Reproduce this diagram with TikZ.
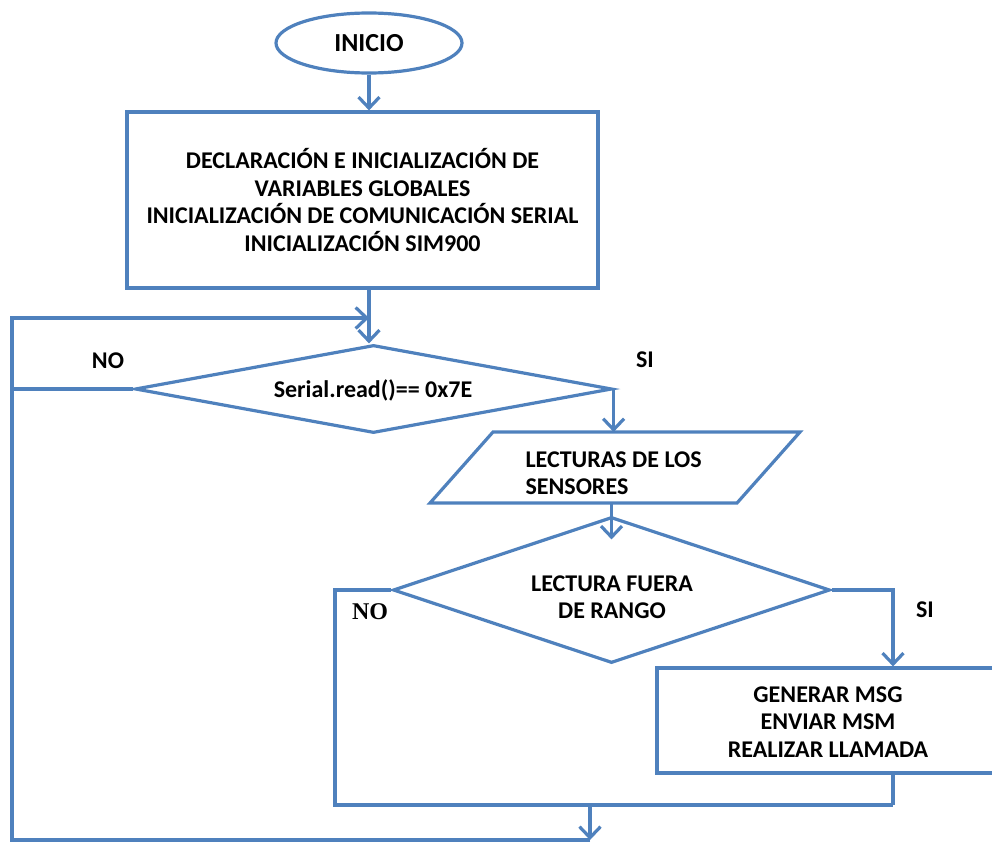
\documentclass[tikz,border=0pt]{standalone}
\usepackage{fontspec}
\setmainfont{Carlito}
\newfontfamily\serifb{Liberation Serif}
\usetikzlibrary{shapes.geometric,arrows.meta,calc}
\definecolor{fblue}{HTML}{4F81BD}
\begin{document}
\begin{tikzpicture}[x=1pt,y=-1pt,
  line/.style={draw=fblue,line width=3.2pt},
  arr/.style={draw=fblue,line width=3.2pt,-{Straight Barb[length=11pt,width=21pt]}},
  txt/.style={font=\bfseries\fontsize{24}{27.5}\selectfont,text=black},
  lbl/.style={font=\bfseries\fontsize{24}{26}\selectfont,text=black}]
\useasboundingbox (0,0) rectangle (992,843);
% nodes
\node[ellipse,line,minimum width=186pt,minimum height=60pt,inner sep=0pt,font=\bfseries\fontsize{26}{28}\selectfont] (ini) at (369,43) {INICIO};
\node[rectangle,line,minimum width=471pt,minimum height=176pt,txt,align=center] (b1) at (362.5,200)
  {DECLARACIÓN E INICIALIZACIÓN DE\\VARIABLES GLOBALES\\INICIALIZACIÓN DE COMUNICACIÓN SERIAL\\INICIALIZACIÓN SIM900};
\node[diamond,line,minimum width=477pt,minimum height=88pt,inner sep=0pt] (d1) at (373.5,389) {};
\node[txt] (d1t) at (373,390) {Serial.read()== 0x7E};
% parallelogram (frame node + outline)
\node[minimum width=370pt,minimum height=71pt,inner sep=0pt,outer sep=0pt] (par) at (615,467.5) {};
\draw[line,line join=miter] ($(par.north west)+(63,0)$) -- (par.north east)
  -- ($(par.south east)+(-63,0)$) -- (par.south west) -- cycle;
\node[txt,align=left,anchor=west] (part) at (522,473) {LECTURAS DE LOS\\SENSORES};
\node[diamond,line,minimum width=437pt,minimum height=146pt,inner sep=0pt] (d2) at (611.5,590) {};
\node[txt,align=center] (d2t) at (612,597) {LECTURA FUERA\\DE RANGO};
\node[rectangle,line,minimum width=340pt,minimum height=105pt] (b2) at (827,720.5) {};
\node[txt,align=center] (b2t) at (828,722) {GENERAR MSG\\ENVIAR MSM\\REALIZAR LLAMADA};
% labels
\node[lbl] (no1) at (108,361) {NO};
\node[lbl] (si1) at (645,360) {SI};
\node[font=\serifb\bfseries\fontsize{24}{26}\selectfont] (no2) at (370,612) {NO};
\node[lbl] (si2) at (925,610) {SI};
% coordinates
\coordinate (L1) at (12,318);
\coordinate (Bot) at (590,840);
\coordinate (J) at (590,805);
\coordinate (L2) at (335,805);
\coordinate (s2) at (893,590);
% connectors
\draw[arr] (ini.south) -- (ini.south |- b1.north);
\draw[arr] (b1.south -| ini.south) -- (ini.south |- d1.north);
\draw[arr] (Bot) -- (Bot -| L1) -- (L1) -- (L1 -| ini.south);
\draw[line] (d1.west) -- (d1.west -| L1);
\draw[arr] (d1.east) -- (d1.east |- par.north);
\draw[arr] (par.south -| d2.north) -- ($(d2.north)+(0,24)$);
\draw[line] (d2.west) -- (d2.west -| L2) -- (L2) -- (L2 -| s2);
\draw[arr] (d2.east) -- (s2) -- (s2 |- b2.north);
\draw[line] (s2 |- b2.south) -- (s2 |- L2);
\draw[arr] (J) -- (Bot);
\end{tikzpicture}
\end{document}
